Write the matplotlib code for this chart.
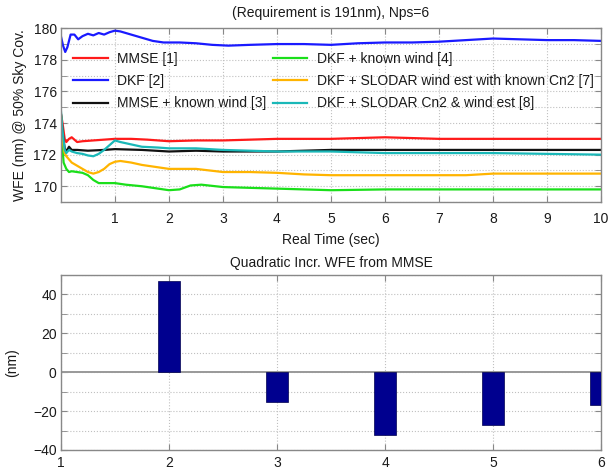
import numpy as np
import matplotlib
matplotlib.use('Agg')
import matplotlib.pyplot as plt

plt.rcParams['font.family'] = ['Liberation Sans', 'DejaVu Sans']

# ---- top panel data ----
t_dkf = [0.0, 0.04, 0.08, 0.12, 0.18, 0.25, 0.32, 0.4, 0.5, 0.6, 0.7, 0.8, 0.9, 1.0, 1.1,
         1.3, 1.5, 1.7, 1.9, 2.2, 2.5, 2.8, 3.1, 3.5, 4.0, 4.5, 5.0, 5.5, 6.0, 6.5, 7.0,
         7.5, 8.0, 8.5, 9.0, 9.5, 10.0]
wfe_dkf = [179.5, 178.9, 178.5, 178.8, 179.6, 179.6, 179.3, 179.5, 179.65, 179.55, 179.7,
           179.6, 179.75, 179.85, 179.8, 179.6, 179.4, 179.2, 179.1, 179.1, 179.05, 178.95,
           178.9, 178.95, 179.0, 179.0, 178.95, 179.05, 179.1, 179.1, 179.15, 179.25, 179.35,
           179.3, 179.25, 179.25, 179.2]

t_mmse = [0, 0.03, 0.07, 0.1, 0.15, 0.2, 0.3, 0.4, 0.6, 0.8, 1.0, 1.3, 1.6, 2.0, 2.5, 3.0,
          3.5, 4.0, 5.0, 6.0, 7.0, 8.0, 9.0, 10.0]
wfe_mmse = [174.6, 174.0, 173.0, 172.8, 173.0, 173.1, 172.8, 172.85, 172.9, 172.95, 173.0,
            173.0, 172.95, 172.85, 172.9, 172.9, 172.95, 173.0, 173.0, 173.1, 173.0, 173.0,
            173.0, 173.0]

t_mmse_wind = [0, 0.03, 0.07, 0.1, 0.15, 0.2, 0.3, 0.5, 0.8, 1.0, 1.5, 2.0, 2.5, 3.0, 3.5,
               4.0, 5.0, 6.0, 7.0, 8.0, 9.0, 10.0]
wfe_mmse_wind = [174.6, 173.5, 172.4, 172.2, 172.5, 172.3, 172.3, 172.25, 172.3, 172.35,
                 172.3, 172.2, 172.25, 172.2, 172.2, 172.2, 172.3, 172.3, 172.3, 172.3,
                 172.3, 172.3]

t_dkf_wind = [0, 0.02, 0.05, 0.1, 0.15, 0.2, 0.3, 0.4, 0.5, 0.6, 0.7, 0.8, 1.0, 1.2, 1.5,
              1.8, 2.0, 2.2, 2.4, 2.6, 3.0, 3.5, 4.0, 4.5, 5.0, 6.0, 7.0, 8.0, 9.0, 10.0]
wfe_dkf_wind = [174.6, 172.8, 171.5, 171.1, 170.9, 170.95, 170.9, 170.85, 170.7, 170.4,
                170.2, 170.2, 170.2, 170.1, 170.0, 169.85, 169.75, 169.8, 170.05, 170.1,
                169.95, 169.9, 169.85, 169.8, 169.75, 169.8, 169.8, 169.8, 169.8, 169.8]

t_slodar_wind = [0, 0.03, 0.07, 0.1, 0.15, 0.2, 0.3, 0.4, 0.5, 0.6, 0.7, 0.8, 0.9, 1.0, 1.1,
                 1.3, 1.5, 1.8, 2.0, 2.5, 3.0, 3.5, 4.0, 4.5, 5.0, 6.0, 7.0, 7.5, 8.0, 9.0, 10.0]
wfe_slodar_wind = [174.5, 173.0, 172.1, 171.9, 171.7, 171.5, 171.3, 171.1, 170.9, 170.8,
                   170.9, 171.1, 171.4, 171.55, 171.6, 171.5, 171.35, 171.2, 171.1, 171.1,
                   170.9, 170.9, 170.85, 170.75, 170.7, 170.7, 170.7, 170.7, 170.8, 170.8, 170.8]

t_slodar_cn2 = [0, 0.03, 0.07, 0.1, 0.15, 0.2, 0.3, 0.4, 0.5, 0.6, 0.7, 0.8, 0.9, 1.0, 1.1,
                1.3, 1.5, 1.8, 2.0, 2.5, 3.0, 3.5, 4.0, 5.0, 6.0, 7.0, 8.0, 9.0, 10.0]
wfe_slodar_cn2 = [174.8, 173.5, 172.3, 172.1, 172.3, 172.2, 172.1, 172.05, 171.95, 171.9,
                  172.05, 172.3, 172.6, 172.9, 172.8, 172.65, 172.5, 172.45, 172.4, 172.4,
                  172.3, 172.25, 172.2, 172.2, 172.1, 172.1, 172.1, 172.05, 172.0]

# ---- bottom panel data ----
bar_x = [2, 3, 4, 5, 6]
bar_incr = [47, -15.5, -32.5, -27, -17]

series = [
    (t_mmse, wfe_mmse, '#ff1a1a', 'MMSE [1]'),
    (t_dkf, wfe_dkf, '#1a1aff', 'DKF [2]'),
    (t_mmse_wind, wfe_mmse_wind, '#111111', 'MMSE + known wind [3]'),
    (t_dkf_wind, wfe_dkf_wind, '#1adf1a', 'DKF + known wind [4]'),
    (t_slodar_wind, wfe_slodar_wind, '#ffb400', 'DKF + SLODAR wind est with known Cn2 [7]'),
    (t_slodar_cn2, wfe_slodar_cn2, '#1ab8b8', 'DKF + SLODAR Cn2 & wind est [8]'),
]

fs = 10
txt_col = '#1a1a1a'
spine_col = '#888888'
grid_col = '#c0c0c0'

fig = plt.figure(figsize=(6.09, 4.71), dpi=100)
ax1 = fig.add_axes([0.100, 0.571, 0.887, 0.369])
ax2 = fig.add_axes([0.100, 0.0446, 0.887, 0.3715])


def style_axes(ax, xpad):
    for sp in ax.spines.values():
        sp.set_color(spine_col)
        sp.set_linewidth(1.0)
    ax.tick_params(which='both', direction='in', length=4, color=spine_col,
                   top=True, right=True, labelsize=fs, labelcolor=txt_col)
    ax.tick_params(axis='x', pad=xpad)
    ax.tick_params(axis='y', pad=3)
    ax.grid(which='both', color=grid_col, linestyle=':', linewidth=0.8)
    ax.set_axisbelow(True)


# top
lines = []
for t, v, c, lab in series:
    ln, = ax1.plot(t, v, color=c, lw=1.6, label=lab)
    lines.append(ln)
ax1.set_xlim(0, 10)
ax1.set_ylim(169, 180)
ax1.set_xticks(np.arange(1, 11, 1))
ax1.set_yticks(np.arange(170, 181, 2))
ax1.set_yticks(np.arange(169, 181, 1), minor=True)
style_axes(ax1, 7)
ax1.set_title('(Requirement is 191nm), Nps=6', fontsize=fs, color=txt_col, pad=8)
ax1.set_xlabel('Real Time (sec)', fontsize=fs, color=txt_col, labelpad=5)
ax1.set_ylabel('WFE (nm) @ 50% Sky Cov.', fontsize=fs, color=txt_col, labelpad=5)

leg_kw = dict(frameon=False, fontsize=fs, loc='upper left', borderpad=0, borderaxespad=0,
              handlelength=2.5, handletextpad=0.7, labelspacing=0.6)
leg1 = ax1.legend(handles=lines[:3], bbox_to_anchor=(0.022, 0.865), **leg_kw)
for tx in leg1.get_texts():
    tx.set_color(txt_col)
ax1.add_artist(leg1)
leg2 = ax1.legend(handles=lines[3:], bbox_to_anchor=(0.392, 0.865), **leg_kw)
for tx in leg2.get_texts():
    tx.set_color(txt_col)

# bottom
ax2.bar(bar_x, bar_incr, width=0.2, color='#00008f', edgecolor='#000050', linewidth=0.5,
        zorder=3)
ax2.axhline(0, color='#999999', lw=1.4, zorder=2)
ax2.set_xlim(1, 6)
ax2.set_ylim(-40, 50)
ax2.set_xticks(np.arange(1, 7, 1))
ax2.set_yticks(np.arange(-40, 41, 20))
ax2.set_yticks(np.arange(-40, 51, 10), minor=True)
style_axes(ax2, 4)
ax2.set_title('Quadratic Incr. WFE from MMSE', fontsize=fs, color=txt_col, pad=6)
ax2.set_ylabel('(nm)', fontsize=fs, color=txt_col, labelpad=10)

fig.savefig('out.png', dpi=100)
